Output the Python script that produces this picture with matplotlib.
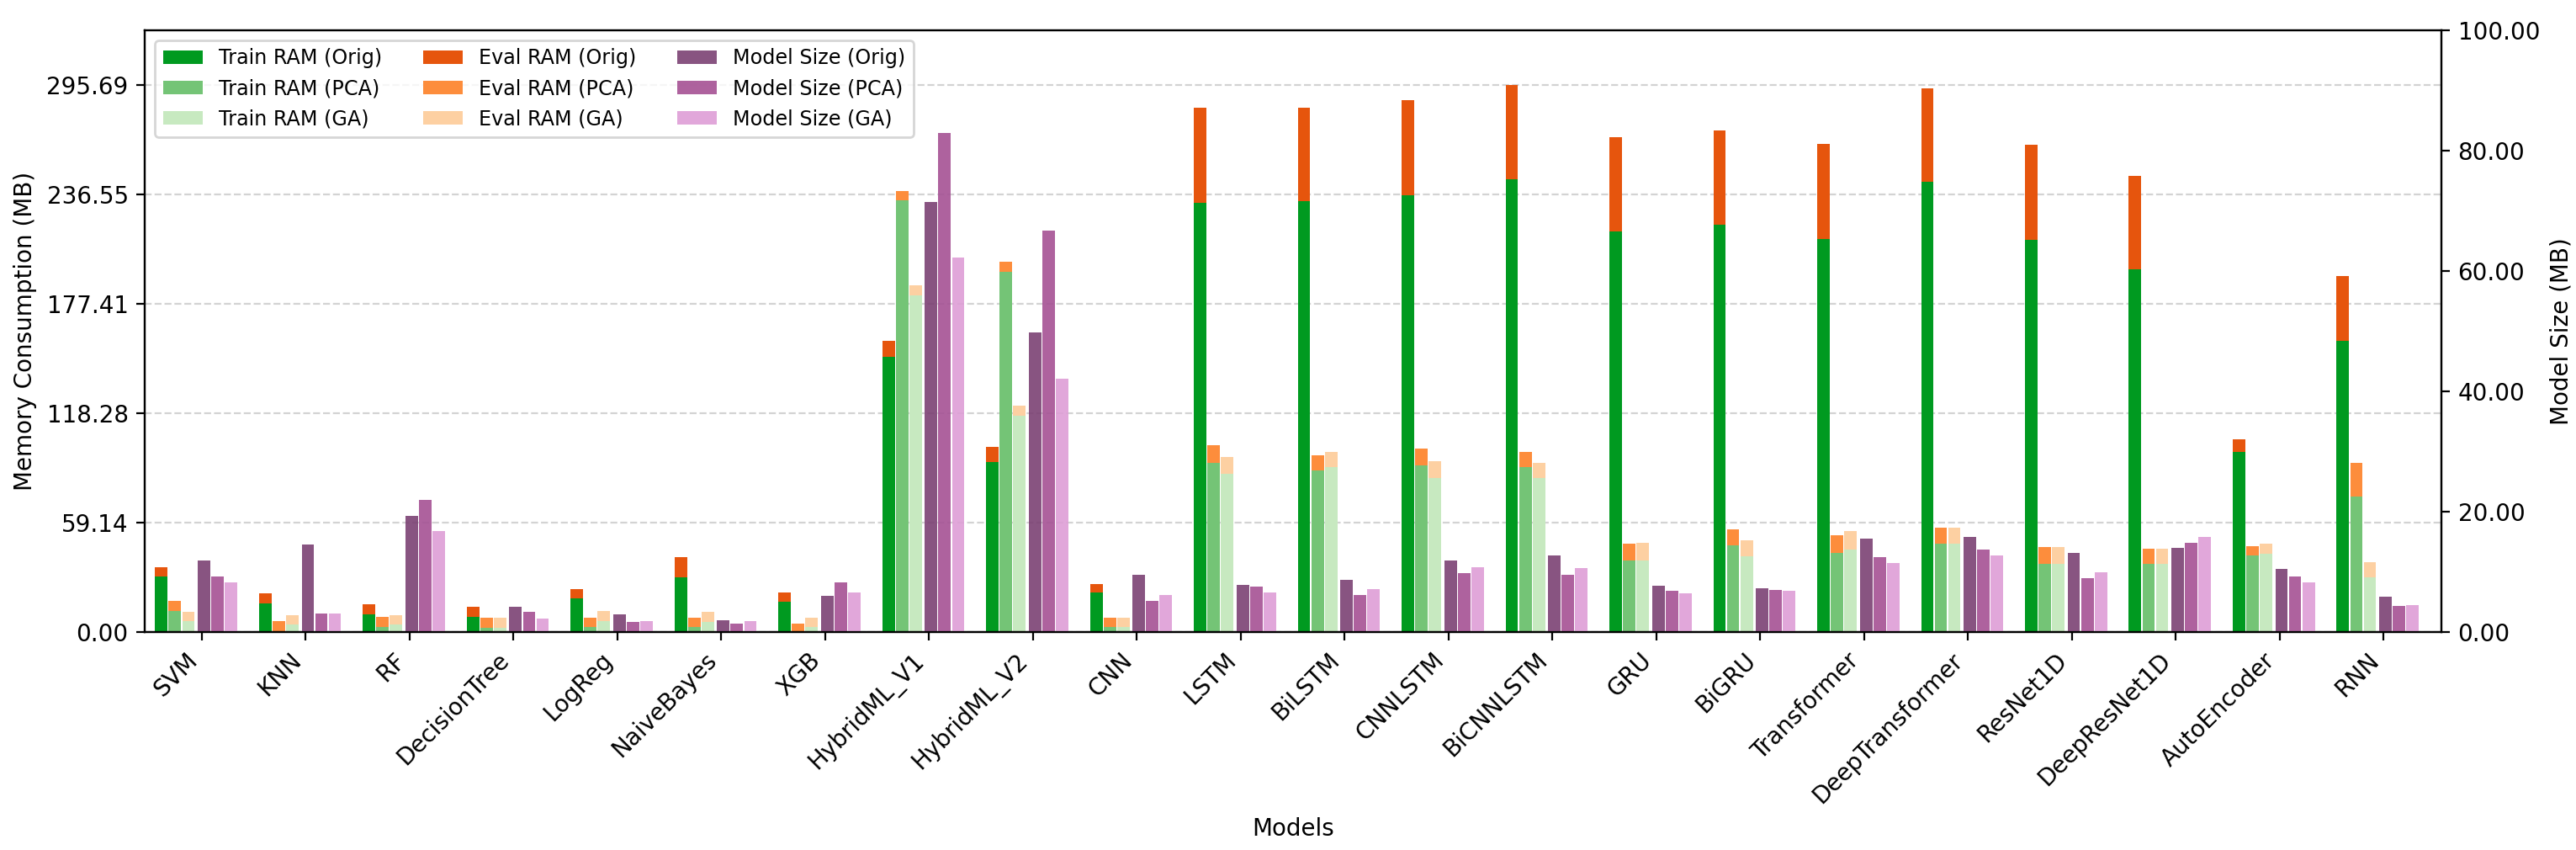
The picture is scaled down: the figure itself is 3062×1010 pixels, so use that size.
#---------------------------------------------------------------------- Packages used ----------------------------------------------------------------------#
import numpy as np
import matplotlib
matplotlib.use('Agg')
import matplotlib.pyplot as plt
from matplotlib.ticker import FormatStrFormatter
#-----------------------------------------------------------------------------------------------------------------------------------------------------------#

models = ['SVM', 'KNN', 'RF', 'DecisionTree', 'LogReg', 'NaiveBayes', 'XGB', 'HybridML_V1', 'HybridML_V2', 'CNN', 'LSTM',
          'BiLSTM', 'CNNLSTM', 'BiCNNLSTM', 'GRU', 'BiGRU', 'Transformer', 'DeepTransformer', 'ResNet1D', 'DeepResNet1D',
          'AutoEncoder', 'RNN']

# training / evaluation RAM in MB (stacked)
train_orig = [30.1, 15.6, 9.7, 8.4, 18.4, 29.7, 16.5, 148.6, 92.0, 21.5, 232.0, 232.9, 236.1, 244.7, 216.4, 220.0, 212.3, 243.4, 211.9, 196.0, 97.4, 157.3]
eval_orig = [5.0, 5.5, 5.5, 5.4, 4.9, 10.9, 5.0, 8.7, 7.9, 4.6, 51.5, 50.6, 51.5, 50.99, 51.0, 51.0, 51.4, 50.5, 51.4, 50.5, 6.6, 35.1]
train_pca = [11.6, 0.5, 2.9, 2.5, 2.9, 2.9, 0.3, 233.4, 194.6, 2.9, 91.3, 87.2, 90.0, 89.1, 38.7, 46.7, 42.8, 47.8, 36.9, 36.9, 41.5, 73.4]
eval_pca = [5.4, 5.4, 5.5, 5.4, 5.0, 5.0, 4.2, 5.0, 5.5, 5.0, 9.5, 8.4, 9.0, 8.3, 9.1, 9.0, 9.5, 8.8, 9.1, 8.2, 5.0, 18.1]
train_ga = [6.1, 3.9, 3.9, 2.5, 6.1, 5.7, 2.9, 182.0, 117.1, 2.9, 85.4, 89.1, 83.2, 83.2, 38.7, 40.8, 44.6, 47.8, 36.9, 36.9, 42.4, 29.7]
eval_ga = [5.0, 5.4, 5.4, 5.4, 5.5, 5.4, 5.0, 5.4, 5.5, 5.0, 9.3, 8.3, 9.2, 8.3, 9.6, 8.8, 9.8, 8.8, 9.1, 8.2, 5.4, 8.1]

# model size in MB
size_orig = [11.9, 14.5, 19.3, 4.24, 2.99, 1.95, 6.05, 71.4, 49.8, 9.53, 7.86, 8.70, 11.9, 12.7, 7.72, 7.31, 15.5, 15.8, 13.15, 13.99, 10.5, 5.92]
size_pca = [9.26, 3.13, 21.9, 3.41, 1.67, 1.39, 8.28, 82.95, 66.7, 5.22, 7.59, 6.19, 9.81, 9.53, 6.89, 7.03, 12.46, 13.7, 8.98, 14.82, 9.26, 4.38]
size_ga = [8.28, 3.13, 16.8, 2.23, 1.81, 1.81, 6.61, 62.3, 42.1, 6.19, 6.61, 7.17, 10.79, 10.65, 6.47, 6.89, 11.48, 12.7, 9.95, 15.8, 8.28, 4.52]

variants = ['Orig', 'PCA', 'GA']
train_colors = ['#009a20', '#74c476', '#c7e9c0']
eval_colors = ['#e6550d', '#fd8d3c', '#fdd0a2']
size_colors = ['#7b4173', '#a55194', '#de9ed6']

#-----------------------------------------------------------------------------------------------------------------------------------------------------------#

x = np.arange(len(models))
width = 0.12
step = 0.13

fig = plt.figure(figsize=(15.31, 5.05), dpi=200)
ax = fig.add_axes([0.0562, 0.2564, 0.8916, 0.708])
ax2 = ax.twinx()

trains = [train_orig, train_pca, train_ga]
evals = [eval_orig, eval_pca, eval_ga]
sizes = [size_orig, size_pca, size_ga]

handles = []
for i in range(3):
    pos = x - 3 * step + i * step
    h = ax.bar(pos, trains[i], width, color=train_colors[i], label='Train RAM (%s)' % variants[i])
    handles.append(h)
for i in range(3):
    pos = x - 3 * step + i * step
    h = ax.bar(pos, evals[i], width, bottom=trains[i], color=eval_colors[i], label='Eval RAM (%s)' % variants[i])
    handles.append(h)
for i in range(3):
    pos = x + 0.02 + i * step
    h = ax2.bar(pos, sizes[i], width, color=size_colors[i], alpha=0.9, label='Model Size (%s)' % variants[i])
    handles.append(h)

totals = np.array([np.add(trains[i], evals[i]) for i in range(3)])
max_total = totals.max()
ax.set_ylim(0, max_total * 1.1)
ax.set_yticks(np.linspace(0, max_total, 6))
ax.yaxis.set_major_formatter(FormatStrFormatter('%.2f'))
ax.yaxis.grid(True, linestyle='--', color='lightgray')
ax.set_axisbelow(True)

ax2.set_ylim(0, 100)
ax2.set_yticks(np.linspace(0, 100, 6))
ax2.yaxis.set_major_formatter(FormatStrFormatter('%.2f'))

ax.set_xlim(-0.55, 21.56)
ax.set_xticks(x)
ax.set_xticklabels(models, rotation=45, ha='right')

ax.set_xlabel('Models')
ax.set_ylabel('Memory Consumption (MB)')
ax2.set_ylabel('Model Size (MB)')

ax.legend(handles=handles, loc='upper left', ncol=3, fontsize=8.6)

fig.savefig('out.png', dpi=200)
